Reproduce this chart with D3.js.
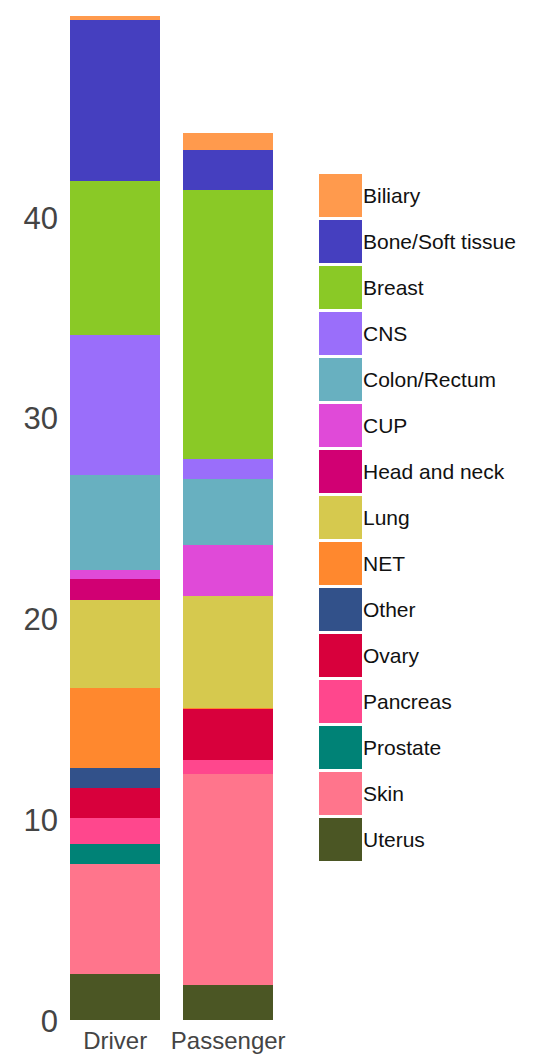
<!DOCTYPE html>
<html lang="en">
<head>
    <meta charset="UTF-8">
    <title>Driver vs Passenger</title>
    <script src="https://d3js.org/d3.v7.min.js"></script>
    <style>
        body { margin: 0; background: #fff; }
        svg { display: block; font-family: "Liberation Sans", Arial, sans-serif; }
        .tick text { fill: #444; }
        .bars rect { shape-rendering: crispEdges; }
        .legend text { fill: #111; font-size: 21px; }
    </style>
</head>
<body>
    <svg id="chart" width="534" height="1061"></svg>

    <script>
        const width = 534, height = 1061;

        // categories, legend order (top of stack first)
        const tumours = ["Biliary", "Bone/Soft tissue", "Breast", "CNS", "Colon/Rectum", "CUP",
            "Head and neck", "Lung", "NET", "Other", "Ovary", "Pancreas", "Prostate", "Skin", "Uterus"];
        const groups = ["Driver", "Passenger"];

        const driverValues = [0.2, 8.02, 7.67, 6.97, 4.73, 0.45, 1.05, 4.38, 4.0, 1.0, 1.5, 1.29, 1.0, 5.48, 2.29];
        const passengerValues = [0.84, 1.99, 13.4, 1.0, 3.29, 2.54, 0, 5.58, 0.05, 0, 2.54, 0.7, 0, 10.51, 1.74];

        const colours = ["#ff9a4d", "#453fbf", "#8ac926", "#9a6efa", "#68b0c0", "#e04ad8",
            "#d10073", "#d6c94e", "#ff882e", "#32518a", "#d8003c", "#ff478d", "#008276", "#ff758c", "#4b5624"];

        const yTicks = [0, 10, 20, 30, 40];

        const rows = groups.map((g, gi) => {
            const row = { group: g };
            const vals = gi === 0 ? driverValues : passengerValues;
            tumours.forEach((t, i) => row[t] = vals[i]);
            return row;
        });

        const colour = d3.scaleOrdinal().domain(tumours).range(colours);

        const x = d3.scaleBand()
            .domain(groups)
            .range([58.7, 284.7])
            .paddingInner(0.2)
            .paddingOuter(0.1);

        const y = d3.scaleLinear()
            .domain([0, 50])
            .range([1020, 16.25]);

        const svg = d3.select("#chart");

        // stack from the bottom: Uterus first
        const stacked = d3.stack().keys(tumours.slice().reverse())(rows);

        svg.append("g")
            .attr("class", "bars")
            .selectAll("g")
            .data(stacked)
            .enter().append("g")
            .attr("fill", d => colour(d.key))
            .selectAll("rect")
            .data(d => d)
            .enter().append("rect")
            .attr("x", d => x(d.data.group))
            .attr("width", x.bandwidth())
            .attr("y", d => y(d[1]))
            .attr("height", d => y(d[0]) - y(d[1]));

        // y axis
        const yAxis = svg.append("g")
            .attr("transform", "translate(58,0)")
            .call(d3.axisLeft(y).tickValues(yTicks).tickSize(0).tickPadding(0));
        yAxis.select(".domain").remove();
        yAxis.selectAll("text")
            .style("font-size", "31px")
            .attr("dy", "0.36em");

        // x axis
        const xAxis = svg.append("g")
            .attr("transform", "translate(0,1020)")
            .call(d3.axisBottom(x).tickSize(0).tickPadding(12));
        xAxis.select(".domain").remove();
        xAxis.selectAll("text")
            .style("font-size", "24px");

        // legend
        const legend = svg.append("g")
            .attr("class", "legend")
            .attr("transform", "translate(319,174)");

        const item = legend.selectAll("g")
            .data(tumours)
            .enter().append("g")
            .attr("transform", (d, i) => `translate(0,${i * 46})`);

        item.append("rect")
            .attr("width", 43)
            .attr("height", 43)
            .attr("fill", d => colour(d));

        item.append("text")
            .attr("x", 44)
            .attr("y", 21.5)
            .attr("dy", "0.36em")
            .text(d => d);
    </script>
</body>
</html>
